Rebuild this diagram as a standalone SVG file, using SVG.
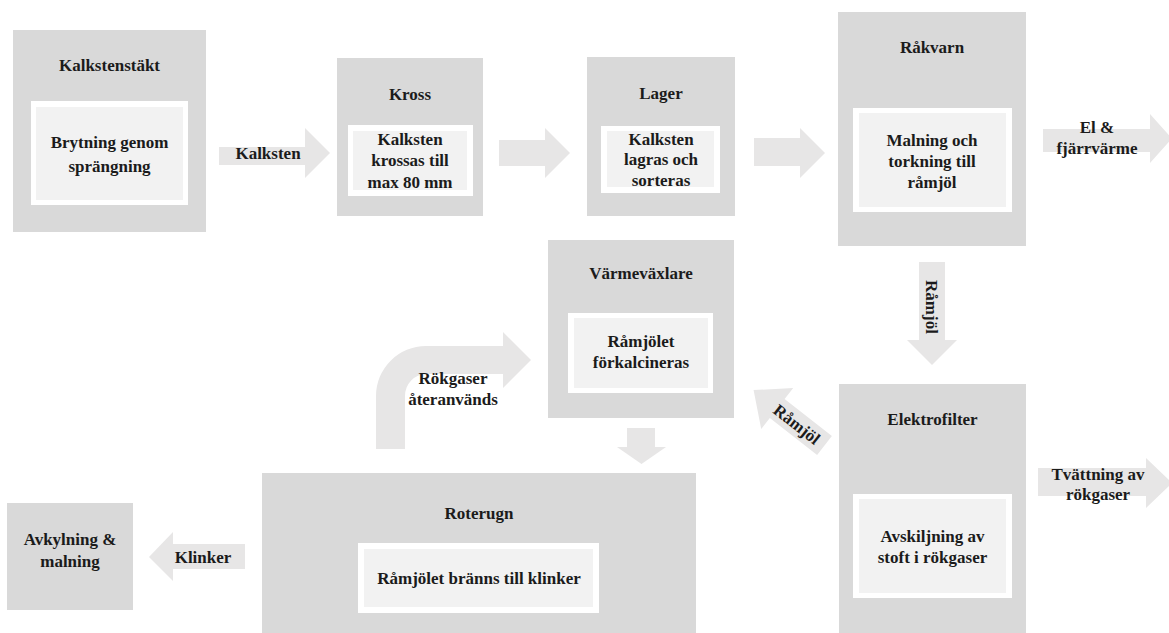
<svg xmlns="http://www.w3.org/2000/svg" width="1169" height="633" viewBox="0 0 1169 633">
  <style>
    .outer { fill: #d9d9d9; }
    .frame { fill: #ffffff; }
    .inner { fill: #f2f2f2; }
    .flow { fill: #e7e6e6; }
    text { font-family: "Liberation Serif", "Times New Roman", serif; font-weight: bold; font-size: 17px; fill: #1b1b1b; text-anchor: middle; }
  </style>
  <rect width="1169" height="633" fill="#ffffff"/>

  <!-- Flow arrows -->
  <g id="connectors">
    <!-- Kalkstenstäkt -> Kross -->
    <polygon class="flow" points="219,147 305,147 305,128 330,153 305,178 305,165 219,165"/>
    <text x="268" y="159">Kalksten</text>
    <!-- Kross -> Lager -->
    <polygon class="flow" points="499,140 545,140 545,128 570,153 545,178 545,166 499,166"/>
    <!-- Lager -> Råkvarn -->
    <polygon class="flow" points="754,138 800,138 800,128 825,153 800,178 800,166 754,166"/>
    <!-- Råkvarn -> El & fjärrvärme -->
    <polygon class="flow" points="1043,129 1150,129 1150,114 1172,138.5 1150,163 1150,152 1043,152"/>
    <text x="1097" y="133">El &amp;</text>
    <text x="1097" y="154">fjärrvärme</text>
    <!-- Råkvarn -> Elektrofilter -->
    <polygon class="flow" points="919,262 945,262 945,340 957,340 932,365 907,340 919,340"/>
    <text transform="translate(932 307) rotate(90)" x="0" y="6">Råmjöl</text>
    <!-- Elektrofilter -> Värmeväxlare -->
    <g transform="translate(824.5 445.5) rotate(218)">
      <polygon class="flow" points="0,-12 60,-12 60,-26 90,0 60,26 60,12 0,12"/>
    </g>
    <text transform="translate(797 424) rotate(38)" x="0" y="6">Råmjöl</text>
    <!-- Elektrofilter -> Tvättning av rökgaser -->
    <polygon class="flow" points="1038,468 1146,468 1146,458 1172,483 1146,508 1146,496 1038,496"/>
    <text x="1098" y="480">Tvättning av</text>
    <text x="1098" y="500">rökgaser</text>
    <!-- Roterugn -> Värmeväxlare (flue gas return) -->
    <path class="flow" d="M376,449 L376,396 A50,50 0 0 1 426,346 L503,346 L503,332 L531,360 L503,388 L503,374 L426,374 A21,22 0 0 0 405,396 L405,449 Z"/>
    <text x="453" y="384">Rökgaser</text>
    <text x="453" y="405">återanvänds</text>
    <!-- Värmeväxlare -> Roterugn -->
    <polygon class="flow" points="627,428 655,428 655,447 666,447 641.5,464 617,447 627,447"/>
    <!-- Roterugn -> Avkylning & malning -->
    <polygon class="flow" points="245,544 173,544 173,532 149,557 173,581 173,569 245,569"/>
    <text x="203" y="563">Klinker</text>
  </g>

  <g id="kalkstenstakt">
    <rect class="outer" x="13" y="30" width="193" height="202"/>
    <rect class="frame" x="31" y="101" width="157" height="104"/>
    <rect class="inner" x="36" y="107" width="147" height="93"/>
    <text x="109.5" y="71">Kalkstenstäkt</text>
    <text x="109.5" y="148">Brytning genom</text>
    <text x="109.5" y="172">sprängning</text>
  </g>

  <g id="kross">
    <rect class="outer" x="337" y="58" width="146" height="158"/>
    <rect class="frame" x="348" y="125" width="125" height="71"/>
    <rect class="inner" x="353" y="131" width="114" height="59"/>
    <text x="410" y="100">Kross</text>
    <text x="410" y="145">Kalksten</text>
    <text x="410" y="166">krossas till</text>
    <text x="410" y="188">max 80 mm</text>
  </g>

  <g id="lager">
    <rect class="outer" x="587" y="57" width="148" height="159"/>
    <rect class="frame" x="601" y="126" width="119" height="67"/>
    <rect class="inner" x="607" y="131" width="107" height="56"/>
    <text x="661" y="99">Lager</text>
    <text x="661" y="145">Kalksten</text>
    <text x="661" y="165">lagras och</text>
    <text x="661" y="186">sorteras</text>
  </g>

  <g id="rakvarn">
    <rect class="outer" x="838" y="12" width="188" height="234"/>
    <rect class="frame" x="853" y="108" width="159" height="104"/>
    <rect class="inner" x="859" y="113" width="147" height="94"/>
    <text x="932" y="53">Råkvarn</text>
    <text x="932" y="146">Malning och</text>
    <text x="932" y="167">torkning till</text>
    <text x="932" y="188">råmjöl</text>
  </g>

  <g id="varmevaxlare">
    <rect class="outer" x="548" y="240" width="186" height="178"/>
    <rect class="frame" x="568" y="313" width="145" height="80"/>
    <rect class="inner" x="574" y="318" width="134" height="70"/>
    <text x="641" y="279">Värmeväxlare</text>
    <text x="641" y="347">Råmjölet</text>
    <text x="641" y="368">förkalcineras</text>
  </g>

  <g id="elektrofilter">
    <rect class="outer" x="839" y="384" width="187" height="249"/>
    <rect class="frame" x="853" y="494" width="159" height="104"/>
    <rect class="inner" x="859" y="499" width="147" height="94"/>
    <text x="932.5" y="425">Elektrofilter</text>
    <text x="932.5" y="542">Avskiljning av</text>
    <text x="932.5" y="563">stoft i rökgaser</text>
  </g>

  <g id="roterugn">
    <rect class="outer" x="262" y="473" width="434" height="160"/>
    <rect class="frame" x="358" y="543" width="241" height="70"/>
    <rect class="inner" x="364" y="549" width="229" height="58"/>
    <text x="479" y="519">Roterugn</text>
    <text x="479" y="584">Råmjölet bränns till klinker</text>
  </g>

  <g id="avkylning">
    <rect class="outer" x="7" y="503" width="126" height="107"/>
    <text x="70" y="545">Avkylning &amp;</text>
    <text x="70" y="567">malning</text>
  </g>
</svg>
